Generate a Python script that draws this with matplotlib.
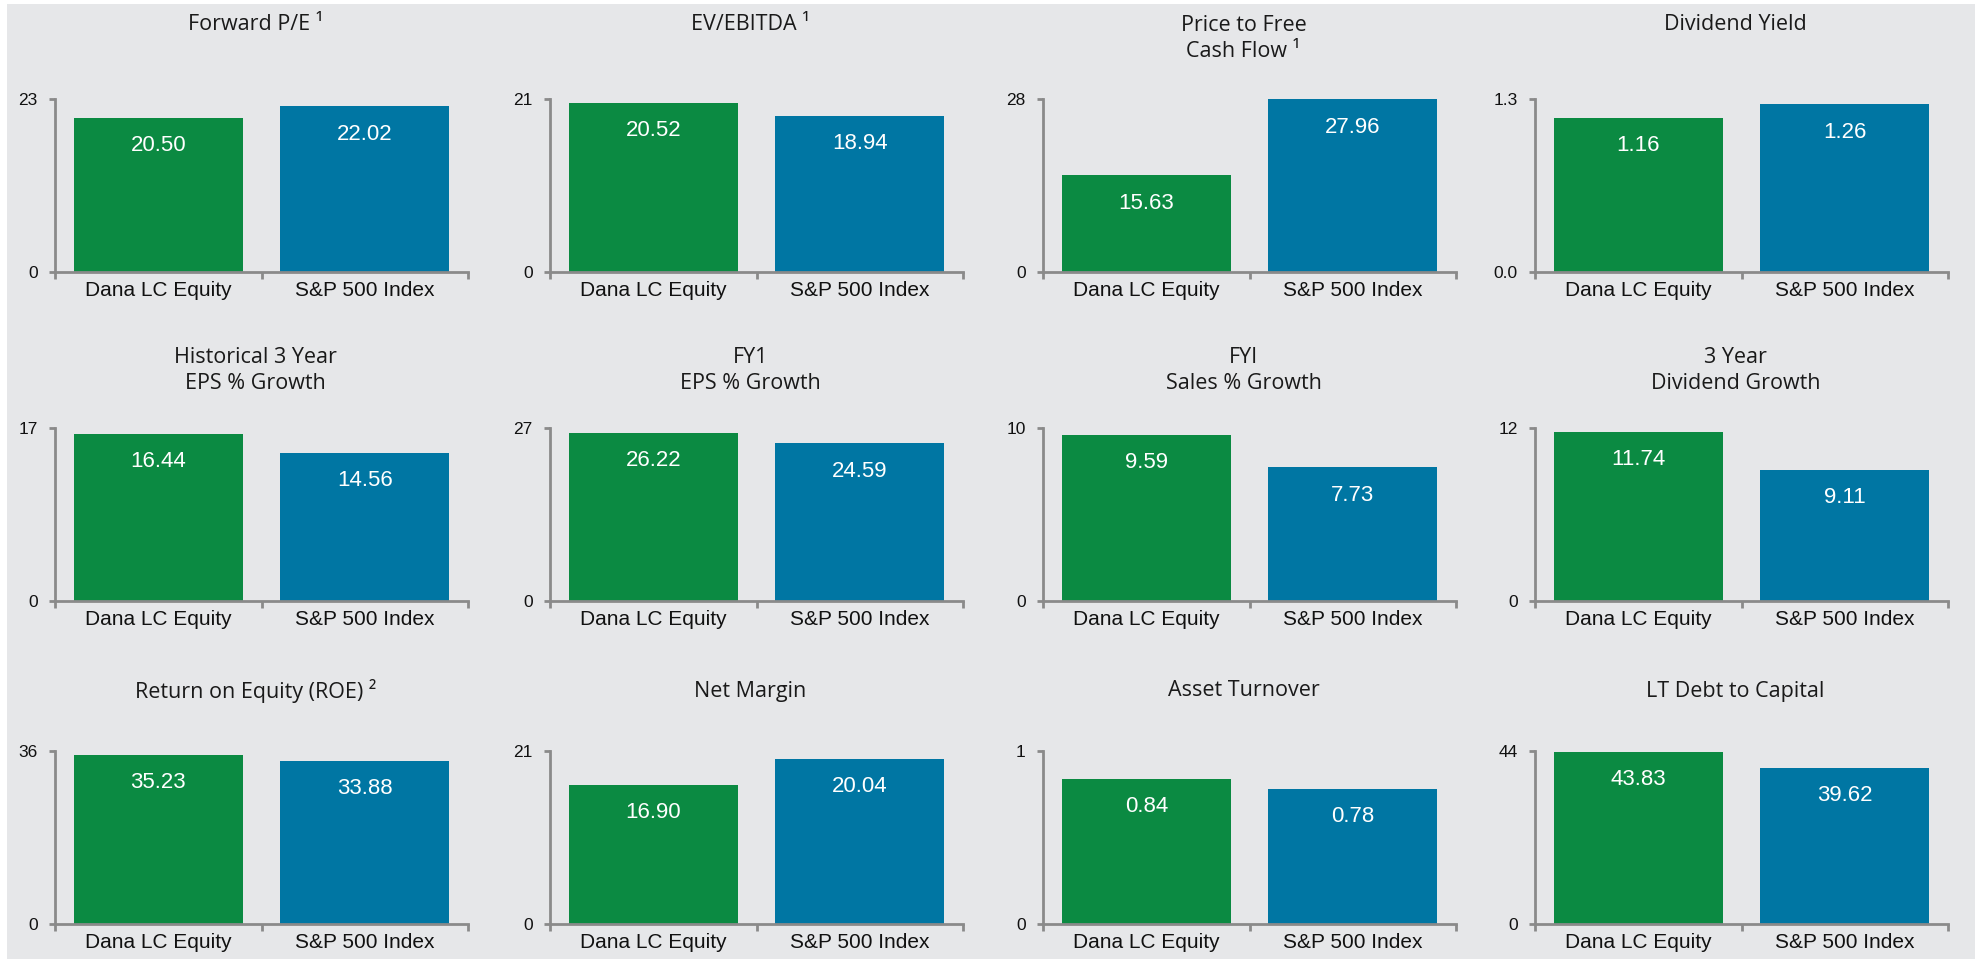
import matplotlib
matplotlib.use("Agg")
import matplotlib.pyplot as plt
from matplotlib.patches import Rectangle

# ---- data ----
titles = ["Forward P/E \u00b9", "EV/EBITDA \u00b9", "Price to Free\nCash Flow \u00b9", "Dividend Yield",
          "Historical 3 Year\nEPS % Growth", "FY1\nEPS % Growth", "FYI\nSales % Growth", "3 Year\nDividend Growth",
          "Return on Equity (ROE) \u00b2", "Net Margin", "Asset Turnover", "LT Debt to Capital"]
categories = ["Dana LC Equity", "S&P 500 Index"]
dana = [20.50, 20.52, 15.63, 1.16, 16.44, 26.22, 9.59, 11.74, 35.23, 16.90, 0.84, 43.83]
sp500 = [22.02, 18.94, 27.96, 1.26, 14.56, 24.59, 7.73, 9.11, 33.88, 20.04, 0.78, 39.62]
ymax = [23, 21, 28, 1.3, 17, 27, 10, 12, 36, 21, 1, 44]
ytick_fmt = ["{:.0f}", "{:.0f}", "{:.0f}", "{:.1f}", "{:.0f}", "{:.0f}", "{:.0f}", "{:.0f}",
             "{:.0f}", "{:.0f}", "{:.0f}", "{:.0f}"]

# ---- style ----
W, H = 1975, 959
GREEN = "#0b8a42"
BLUE = "#0076a3"
BG = "#e6e7e9"
AXC = "#8a8a8a"
TITLE_FONT = ["Open Sans", "DejaVu Sans"]
NUM_FONT = ["Liberation Sans", "DejaVu Sans"]

fig = plt.figure(figsize=(W / 100, H / 100), dpi=100)
fig.patch.set_facecolor("white")
fig.add_artist(Rectangle((7 / W, 0), 1 - 7 / W, 1 - 4 / H, transform=fig.transFigure,
                         facecolor=BG, edgecolor="none", zorder=-10))

col_x = [55, 550, 1043, 1535]
row_top = [99, 428, 751]
row_zero = [272, 601, 924]
title_first_y = [24, 356, 691]
ax_w = 413
line_gap = 29

for i in range(12):
    r, c = divmod(i, 4)
    x0 = col_x[c]
    top, zero = row_top[r], row_zero[r]
    ax = fig.add_axes([x0 / W, 1 - zero / H, ax_w / W, (zero - top) / H])
    ax.set_facecolor("none")
    vals = [dana[i], sp500[i]]
    bars = ax.bar([0, 1], vals, width=0.82, color=[GREEN, BLUE], zorder=1)
    ax.set_xlim(-0.5, 1.5)
    ax.set_ylim(0, ymax[i])
    for s in ("top", "right"):
        ax.spines[s].set_visible(False)
    for s in ("left", "bottom"):
        ax.spines[s].set_color(AXC)
        ax.spines[s].set_linewidth(2)
        ax.spines[s].set_zorder(3)
    ax.set_yticks([0, ymax[i]])
    ax.set_yticklabels([ytick_fmt[i].format(0), ytick_fmt[i].format(ymax[i])],
                       fontsize=12.5, family=NUM_FONT, color="#111111")
    ax.tick_params(axis="y", length=4, width=2, color=AXC, pad=8.5)
    ax.set_xticks([-0.5, 0.5, 1.5])
    ax.set_xticklabels([])
    ax.set_xticks([0, 1], minor=True)
    ax.set_xticklabels(categories, minor=True, fontsize=15, family=NUM_FONT, color="#111111")
    ax.tick_params(axis="x", which="major", length=5, width=2, color=AXC)
    ax.tick_params(axis="x", which="minor", length=0, pad=6.5)
    for b, v in zip(bars, vals):
        ax.annotate(f"{v:.2f}", (b.get_x() + b.get_width() / 2, v), xytext=(0, -20),
                    textcoords="offset points", ha="center", va="center",
                    fontsize=16, family=NUM_FONT, color="white")
    nlines = titles[i].count("\n") + 1
    cy = title_first_y[r] + (nlines - 1) * line_gap / 2
    fig.text((x0 + ax_w / 2 - 6) / W, 1 - cy / H, titles[i], ha="center", va="center",
             fontsize=15.5, family=TITLE_FONT, color="#1a1a1a", linespacing=1.3)

fig.savefig("out.png", dpi=100, facecolor=fig.get_facecolor())
